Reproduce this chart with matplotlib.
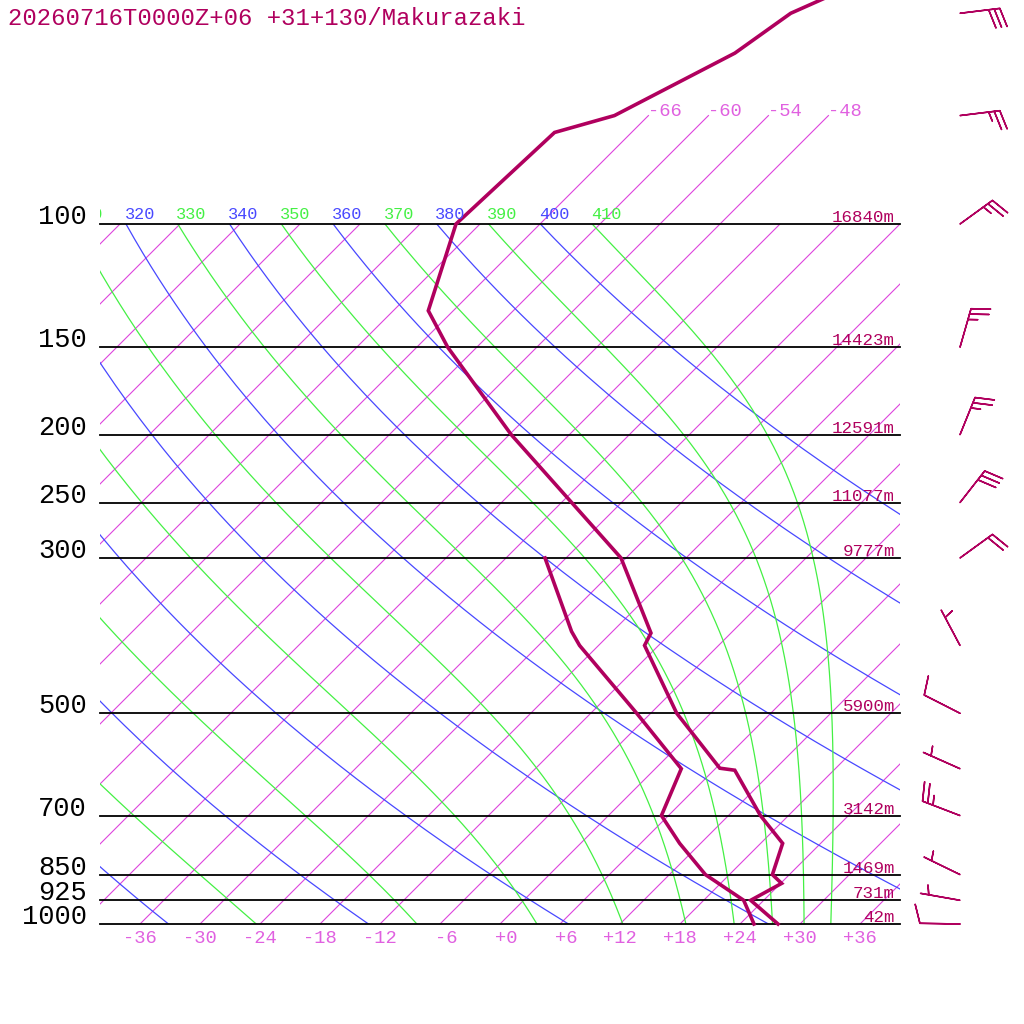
import numpy as np
import matplotlib
matplotlib.use("Agg")
import matplotlib.pyplot as plt
from matplotlib.patches import Rectangle
from matplotlib.transforms import Bbox, TransformedBbox

plt.rcParams['font.family'] = ['Liberation Mono', 'DejaVu Sans Mono']

# ---------------- data ----------------
title = "20260716T0000Z+06 +31+130/Makurazaki"

temp_p = [1000, 925, 875, 850, 767, 700, 603, 599, 500, 400, 384, 300, 200, 150, 133, 100, 74, 70, 57, 50, 45]
temp_T = [27.8, 22.7, 24.1, 22.3, 20.2, 15.2, 8.1, 6.4, -3.4, -13.4, -14.0, -24.5, -47.8, -62.9, -68.5, -74.4, -73.7, -69.4, -63.6, -62.0, -58.0]

dew_p = [1000, 925, 850, 767, 700, 600, 500, 400, 382, 300]
dew_T = [25.4, 22.0, 15.6, 9.9, 5.3, 2.6, -7.4, -19.9, -22.1, -32.1]

level_p = [1000, 925, 850, 700, 500, 300, 250, 200, 150, 100]
level_label = ["1000", "925", "850", "700", "500", "300", "250", "200", "150", "100"]
level_height = ["42m", "731m", "1469m", "3142m", "5900m", "9777m", "11077m", "12591m", "14423m", "16840m"]

wind_p = [50, 70, 100, 150, 200, 250, 300, 400, 500, 600, 700, 850, 925, 1000]
wind_dir = [83, 83, 54, 16, 22, 38, 54, 332, 297, 294, 291, 296, 280, 271]
wind_spd = [30, 25, 25, 25, 25, 30, 20, 5, 10, 5, 25, 5, 5, 10]

isotherms = list(range(-108, 37, 6))
isotherm_top = [-66, -60, -54, -48]
isotherm_bottom = list(range(-36, 37, 6))
dry_theta = list(range(240, 401, 20))
moist_theta = list(range(250, 411, 20))

# ---------------- styles ----------------
C_PROF = "#b0005e"
C_ISO = "#dd44dd"
C_ISO_TXT = "#e060e0"
C_DRY = "#4848ff"
C_MOIST = "#44f044"
SKEW = 70.0

def skx(T, p):
    return np.asarray(T, dtype=float) + SKEW * np.log10(1000.0 / np.asarray(p, dtype=float))

def px_p(p, dy):
    # pressure shifted by dy pixels upward
    return p * 10 ** (-dy / 700.0)

fig = plt.figure(figsize=(10.24, 10.24), dpi=100)
ax = fig.add_axes([0, 0, 1, 1])
ax.set_yscale('log')
ax.set_xlim(-50, 52.4)
ax.set_ylim(1000 * 10 ** (100 / 700), 1000 * 10 ** (-924 / 700))
ax.set_axis_off()

clip = Rectangle((-40, 100), 80, 900, transform=ax.transData, fill=False)

# isotherms
pp = np.array([1000.0, 100.0])
for T in isotherms:
    ln, = ax.plot(skx(T, pp), pp, color=C_ISO, lw=0.8)
    ln.set_clip_path(clip)
for T in isotherm_top:
    pt = np.array([100.0, 70.0])
    ax.plot(skx(T, pt), pt, color=C_ISO, lw=0.8)
    ax.text(skx(T, 70.0), 70.0, f"{T}", color=C_ISO_TXT, fontsize=13.5,
            ha='left', va='baseline')

# dry adiabats
pgrid = np.linspace(100, 1000, 181)
for th in dry_theta:
    T = th * (pgrid / 1000.0) ** 0.2857 - 273.15
    ln, = ax.plot(skx(T, pgrid), pgrid, color=C_DRY, lw=0.9)
    ln.set_clip_path(clip)

# moist (pseudo) adiabats
Rd, cp, Lv, eps = 287.04, 1004.0, 2.5e6, 0.622
def dTdp(T, p):
    es = 6.112 * np.exp(17.67 * (T - 273.15) / (T - 29.65))
    rs = eps * es / (p - es)
    return (Rd * T + Lv * rs) / (p * (cp + Lv * Lv * rs * eps / (Rd * T * T)))

for th in moist_theta:
    ps = [100.0]
    T = th * 0.1 ** 0.2857
    Ts = [T]
    p = 100.0
    dp = 2.0
    while p < 1000.0 - 1e-9:
        k1 = dTdp(T, p)
        k2 = dTdp(T + 0.5 * dp * k1, p + 0.5 * dp)
        k3 = dTdp(T + 0.5 * dp * k2, p + 0.5 * dp)
        k4 = dTdp(T + dp * k3, p + dp)
        T = T + dp * (k1 + 2 * k2 + 2 * k3 + k4) / 6.0
        p = p + dp
        ps.append(p)
        Ts.append(T)
    ps = np.array(ps)
    Ts = np.array(Ts) - 273.15
    ln, = ax.plot(skx(Ts, ps), ps, color=C_MOIST, lw=0.9)
    ln.set_clip_path(clip)

# theta labels at 100 hPa (clipped at the left edge of the diagram)
cb = TransformedBbox(Bbox([[-40, 10], [60, 3000]]), ax.transData)
lab_p = px_p(100.0, 5)
for th in dry_theta:
    if th < 310:
        continue
    T = th * 0.1 ** 0.2857 - 273.15
    t = ax.text(skx(T, 100.0) - 0.15, lab_p, str(th), color=C_DRY, fontsize=12.2,
                ha='left', va='baseline')
    t.set_clip_on(True)
    t.set_clip_path(None)
    t.set_clip_box(cb)
for th in moist_theta:
    if th < 310:
        continue
    T = th * 0.1 ** 0.2857 - 273.15
    t = ax.text(skx(T, 100.0) - 0.15, lab_p, str(th), color=C_MOIST, fontsize=12.2,
                ha='left', va='baseline')
    t.set_clip_on(True)
    t.set_clip_path(None)
    t.set_clip_box(cb)

# isobars + labels
for p, lab, h in zip(level_p, level_label, level_height):
    ax.plot([-40, 40], [p, p], color='black', lw=1.3)
    ax.text(-41.3, p, lab, color='black', fontsize=19.5, ha='right', va='baseline')
    ax.text(39.5, px_p(p, 2), h, color=C_PROF, fontsize=12.6, ha='right', va='baseline')

# bottom temperature labels
for T in isotherm_bottom:
    s = f"{T:+d}"
    ax.text(T + 1.7, px_p(1000.0, -19), s, color=C_ISO_TXT, fontsize=13.5,
            ha='right', va='baseline')

# profiles
ax.plot(skx(temp_T, temp_p), temp_p, color=C_PROF, lw=2.6, solid_joinstyle='miter')
ax.plot(skx(dew_T, dew_p), dew_p, color=C_PROF, lw=2.6, solid_joinstyle='miter')

# wind barbs
d = np.deg2rad(np.array(wind_dir, dtype=float))
s = np.array(wind_spd, dtype=float)
u = -s * np.sin(d)
v = -s * np.cos(d)
ax.barbs(np.full(len(wind_p), 46.0), np.array(wind_p, dtype=float), u, v,
         length=7.6, pivot='tip', color=C_PROF, linewidth=1.1,
         sizes=dict(height=0.47, spacing=0.14, width=0.25))

fig.text(8 / 1024, 1 - 25 / 1024, title, color=C_PROF, fontsize=17.2,
         ha='left', va='baseline')

fig.savefig("out.png", dpi=100)
